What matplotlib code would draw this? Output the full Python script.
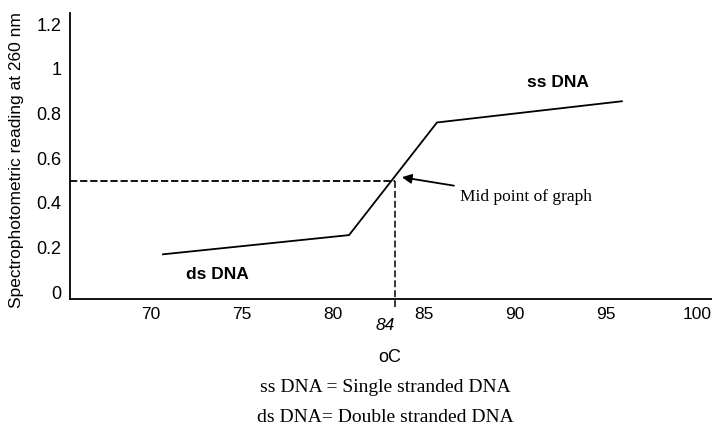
#! /usr/bin/env python3
"""DNA melting curve: absorbance at 260 nm against temperature."""

import matplotlib

matplotlib.use("Agg")
import matplotlib.pyplot as plt  # noqa: E402

# Data.
temps = [70.7, 80.9, 85.72, 95.86]
readings = [0.17, 0.256, 0.76, 0.855]
mid_temp = 83.42
mid_reading = 0.5

x_ticks = [70, 75, 80, 85, 90, 95, 100]
y_ticks = [0, 0.2, 0.4, 0.6, 0.8, 1.0, 1.2]
y_tick_labels = ["0", "0.2", "0.4", "0.6", "0.8", "1", "1.2"]

SANS = "Liberation Sans"
SERIF = "Liberation Serif"

W, H = 712, 425
fig = plt.figure(figsize=(W / 100, H / 100), dpi=100)
ax = fig.add_axes([70 / W, 1 - 299 / H, 642 / W, 286 / H])

ax.plot(temps, readings, color="black", lw=1.3, solid_joinstyle="miter")

# Mid point guide lines.
ax.plot([65.6, mid_temp], [mid_reading, mid_reading], color="black",
        lw=1.3, dashes=(4, 1.6))
ax.plot([mid_temp, mid_temp], [mid_reading, -0.065], color="black",
        lw=1.1, dashes=(4.5, 2), clip_on=False)

ax.set_xlim(65.6, 100.8)
ax.set_ylim(-0.03, 1.25)
ax.set_xticks(x_ticks)
ax.set_yticks(y_ticks, y_tick_labels)
ax.tick_params(length=0, labelsize=13)
ax.tick_params(axis="x", labelsize=12.5)
ax.tick_params(axis="y", pad=6)
ax.tick_params(axis="x", pad=6)
for lab in ax.get_xticklabels() + ax.get_yticklabels():
    lab.set_fontfamily(SANS)

for side in ("top", "right"):
    ax.spines[side].set_visible(False)
for side in ("left", "bottom"):
    ax.spines[side].set_linewidth(1.3)

ax.text(92.35, 0.94, "ss DNA", fontsize=12.5, fontweight="bold",
        family=SANS, ha="center", va="center")
ax.text(73.66, 0.08, "ds DNA", fontsize=12.5, fontweight="bold",
        family=SANS, ha="center", va="center")
ax.annotate("Mid point of graph", xy=(83.8, 0.515), xytext=(86.98, 0.425),
            fontsize=12.5, family=SERIF, ha="left", va="center",
            arrowprops=dict(arrowstyle="-|>", color="black", lw=1.3,
                            mutation_scale=14, shrinkA=4, shrinkB=0))
ax.text(82.87, -0.148, "84", fontsize=12.5, style="italic", family=SANS,
        ha="center", va="center", clip_on=False)

fig.text(17 / W, 1 - 160 / H, "Spectrophotometric reading at 260 nm",
         rotation=90, fontsize=12.5, family=SANS, ha="center", va="center")
fig.text(390 / W, 1 - 357 / H, "oC", fontsize=13, family=SANS,
         ha="center", va="center")
fig.text(385 / W, 1 - 388 / H, "ss DNA = Single stranded DNA",
         fontsize=14, family=SERIF, ha="center", va="center")
fig.text(385 / W, 1 - 418 / H, "ds DNA= Double stranded DNA",
         fontsize=14, family=SERIF, ha="center", va="center")

fig.savefig("out.png", dpi=100)
